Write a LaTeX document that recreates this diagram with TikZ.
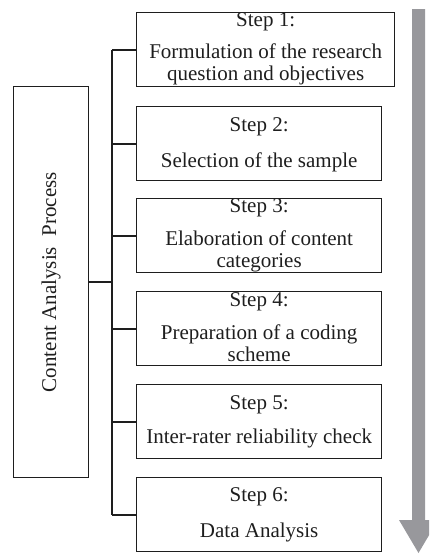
\documentclass[tikz,border=0pt]{standalone}
\usepackage{fontspec}
\setmainfont{Liberation Serif}
\definecolor{flowgray}{RGB}{152,152,156}
\definecolor{inkline}{RGB}{30,30,30}
\begin{document}
\begin{tikzpicture}[x=1pt,y=-1pt,
  stepbox/.style={draw=inkline, line width=1.3pt, minimum height=74pt, inner sep=0pt, anchor=north west},
  mainbox/.style={draw=inkline, line width=1.3pt, minimum width=75pt, minimum height=391pt, inner sep=0pt, anchor=north west},
  steptext/.style={inner sep=0pt, align=center, text=inkline, font=\fontsize{21}{22}\selectfont},
  conn/.style={draw=inkline, line width=1.8pt}]
\clip (0,0) rectangle (429,554);

% overall flow arrow on the right
\fill[flowgray] (412,9) -- (425,9) -- (425,520) -- (438,520) -- (418.5,553)
  -- (399,520) -- (412,520) -- cycle;

% main box with rotated title
\node[mainbox] (main) at (13,86) {};
\node[steptext, rotate=90] (maintext) at (main.center) {Content Analysis~ Process};

% step boxes
\node[stepbox, minimum width=258pt] (s1) at (136,12) {};
\node[stepbox, minimum width=245pt] (s2) at (136,106) {};
\node[stepbox, minimum width=245pt] (s3) at (136,198) {};
\node[stepbox, minimum width=245pt] (s4) at (136,291) {};
\node[stepbox, minimum width=245pt] (s5) at (136,384) {};
\node[stepbox, minimum width=245pt] (s6) at (136,477) {};

% step labels (shifts measured downward from the top edge of each box)
\node[steptext] (s1h) at ([yshift=-10pt]s1.north) {Step 1:};
\node[steptext] (s1b) at ([yshift=-52pt]s1.north) {Formulation of the research\\question and objectives};
\node[steptext] (s2h) at ([yshift=-21pt]s2.north) {Step 2:};
\node[steptext] (s2b) at ([yshift=-56pt]s2.north) {Selection of the sample};
\node[steptext] (s3h) at ([yshift=-10pt]s3.north) {Step 3:};
\node[steptext] (s3b) at ([yshift=-53pt]s3.north) {Elaboration of content\\categories};
\node[steptext] (s4h) at ([yshift=-11pt]s4.north) {Step 4:};
\node[steptext] (s4b) at ([yshift=-52pt]s4.north) {Preparation of a coding\\scheme};
\node[steptext] (s5h) at ([yshift=-21pt]s5.north) {Step 5:};
\node[steptext] (s5b) at ([yshift=-54pt]s5.north) {Inter-rater reliability check};
\node[steptext] (s6h) at ([yshift=-20pt]s6.north) {Step 6:};
\node[steptext] (s6b) at ([yshift=-55pt]s6.north) {Data Analysis};

% tree connectors
\coordinate (ttop) at (112,0 |- s1.west);
\coordinate (tbot) at (112,0 |- s6.west);
\draw[conn] (ttop) -- (tbot);
\draw[conn] (main.east) -- (main.east -| ttop);
\foreach \s in {s1,s2,s3,s4,s5,s6}
  \draw[conn] (\s.west) -- (\s.west -| ttop);
\end{tikzpicture}
\end{document}
